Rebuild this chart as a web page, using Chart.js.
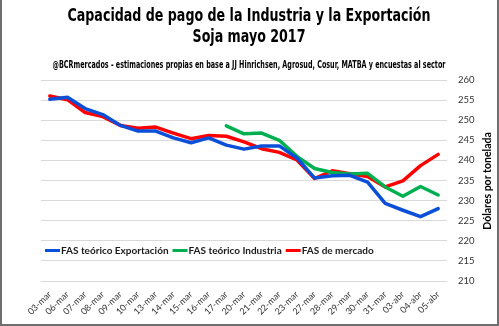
<!DOCTYPE html>
<html lang="es">
<head>
<meta charset="utf-8">
<title>Capacidad de pago de la Industria y la Exportación</title>
<script src="https://cdn.jsdelivr.net/npm/chart.js@4.4.1/dist/chart.umd.min.js"></script>
<style>
  html, body { margin: 0; padding: 0; background: #ffffff; }
  canvas { display: block; }
</style>
</head>
<body>
<canvas id="chart" width="499" height="326"></canvas>
<script>
// Fechas de cotización
const fechas = ['03-mar','06-mar','07-mar','08-mar','09-mar','10-mar','13-mar','14-mar','15-mar','16-mar',
  '17-mar','20-mar','21-mar','22-mar','23-mar','27-mar','28-mar','29-mar','30-mar','31-mar',
  '03-abr','04-abr','05-abr'];

// US$/t
const fasExportacion = [255.2, 255.7, 252.9, 251.4, 248.7, 247.3, 247.3, 245.6, 244.4, 245.6,
  243.8, 242.8, 243.6, 243.6, 240.6, 235.6, 236.2, 236.3, 234.6, 229.3, 227.6, 226.0, 228.0];
const fasIndustria = [null, null, null, null, null, null, null, null, null, null,
  248.6, 246.6, 246.8, 245.0, 241.0, 238.0, 237.0, 236.6, 236.8, 233.4, 231.1, 233.5, 231.4];
const fasMercado = [256.0, 255.1, 251.9, 250.9, 248.7, 248.0, 248.3, 246.8, 245.4, 246.2,
  246.0, 244.6, 242.9, 242.0, 240.1, 235.5, 237.4, 236.7, 236.0, 233.4, 234.9, 238.7, 241.5];

const series = ['FAS teórico Exportación', 'FAS teórico Industria', 'FAS de mercado'];
const ejeY = { min: 210, max: 260, step: 5 };

const titulo = ['Capacidad de pago de la Industria y la Exportación', 'Soja mayo 2017'];
const fuente = '@BCRmercados - estimaciones propias en base a JJ Hinrichsen, Agrosud, Cosur, MATBA y encuestas al sector';
const tituloEje = 'Dólares por tonelada';

const NARROW = '"Liberation Sans Narrow", "DejaVu Sans Condensed", "Arial Narrow", sans-serif';
const BODY = 'Lato, "Open Sans", sans-serif';

// Texto condensado: se comprime al ancho indicado si la fuente es más ancha
function textoAngosto(ctx, texto, x, y, ancho, escala) {
  const natural = ctx.measureText(texto).width;
  ctx.fillText(texto, x, y, Math.min(natural, natural * escala, ancho));
}

// Títulos, leyenda interna, título del eje y marco
const decoraciones = {
  id: 'decoraciones',
  afterDraw(chart) {
    const ctx = chart.ctx;
    const area = chart.chartArea;
    ctx.save();

    // Título
    ctx.fillStyle = '#000000';
    ctx.textAlign = 'center';
    ctx.textBaseline = 'middle';
    ctx.font = 'bold 17px ' + NARROW;
    const l1 = ctx.measureText(titulo[0]).width;
    const k = Math.min(1, 363 / l1);
    ctx.fillText(titulo[0], 249, 17, l1 * k);
    ctx.fillText(titulo[1], 249, 38, ctx.measureText(titulo[1]).width * k);
    ctx.font = 'bold 10px ' + NARROW;
    ctx.fillText(fuente, 249, 65, 393);

    // Leyenda dentro del área de trazado
    ctx.font = 'bold 10px ' + BODY;
    ctx.textAlign = 'left';
    let x = area.left + 4;
    const y = 250.5;
    chart.data.datasets.forEach(ds => {
      ctx.strokeStyle = ds.borderColor;
      ctx.lineWidth = 3;
      ctx.beginPath();
      ctx.moveTo(x, y);
      ctx.lineTo(x + 15, y);
      ctx.stroke();
      ctx.fillStyle = '#1a1a1a';
      ctx.fillText(ds.label, x + 16, y);
      x += 16 + ctx.measureText(ds.label).width + 4;
    });

    // Título del eje vertical
    ctx.save();
    ctx.translate(488, 181);
    ctx.rotate(-Math.PI / 2);
    ctx.textAlign = 'center';
    ctx.fillStyle = '#000000';
    ctx.font = 'bold 10.5px ' + BODY;
    ctx.fillText(tituloEje, 0, 0);
    ctx.restore();

    // Marco
    ctx.strokeStyle = '#6e6e6e';
    ctx.lineWidth = 2;
    ctx.beginPath();
    ctx.moveTo(1, 0);
    ctx.lineTo(1, 325);
    ctx.lineTo(498, 325);
    ctx.lineTo(498, 0);
    ctx.stroke();

    ctx.restore();
  }
};

const fondo = {
  id: 'fondo',
  beforeDraw(chart) {
    const ctx = chart.ctx;
    ctx.save();
    ctx.fillStyle = '#ffffff';
    ctx.fillRect(0, 0, chart.width, chart.height);
    ctx.restore();
  }
};

const linea = (label, data, color) => ({
  label, data,
  borderColor: color,
  backgroundColor: color,
  borderWidth: 3.5,
  pointRadius: 0,
  tension: 0,
  spanGaps: false,
  borderJoinStyle: 'round',
  borderCapStyle: 'round'
});

new Chart(document.getElementById('chart'), {
  type: 'line',
  data: {
    labels: fechas,
    datasets: [
      linea(series[0], fasExportacion, '#0A4FD8'),
      linea(series[1], fasIndustria, '#00B050'),
      linea(series[2], fasMercado, '#FF0000')
    ]
  },
  options: {
    responsive: false,
    animation: false,
    devicePixelRatio: 1,
    layout: { padding: { left: 41, top: 80, right: 0, bottom: 0 } },
    plugins: {
      legend: { display: false },
      title: { display: false },
      tooltip: { enabled: false }
    },
    scales: {
      x: {
        offset: true,
        grid: { display: false, drawTicks: false },
        border: { display: false },
        ticks: {
          minRotation: 45,
          maxRotation: 45,
          autoSkip: false,
          padding: 8,
          color: '#333333',
          font: { family: BODY, size: 9 }
        },
        afterFit(scale) { scale.height = 45; }
      },
      y: {
        position: 'right',
        min: ejeY.min,
        max: ejeY.max,
        grid: { color: '#D9D9D9', lineWidth: 1, drawTicks: false },
        border: { display: false },
        ticks: {
          stepSize: ejeY.step,
          padding: 11,
          color: '#333333',
          font: { family: BODY, size: 9.5 }
        },
        afterFit(scale) { scale.width = 52; }
      }
    }
  },
  plugins: [fondo, decoraciones]
});
</script>
</body>
</html>
